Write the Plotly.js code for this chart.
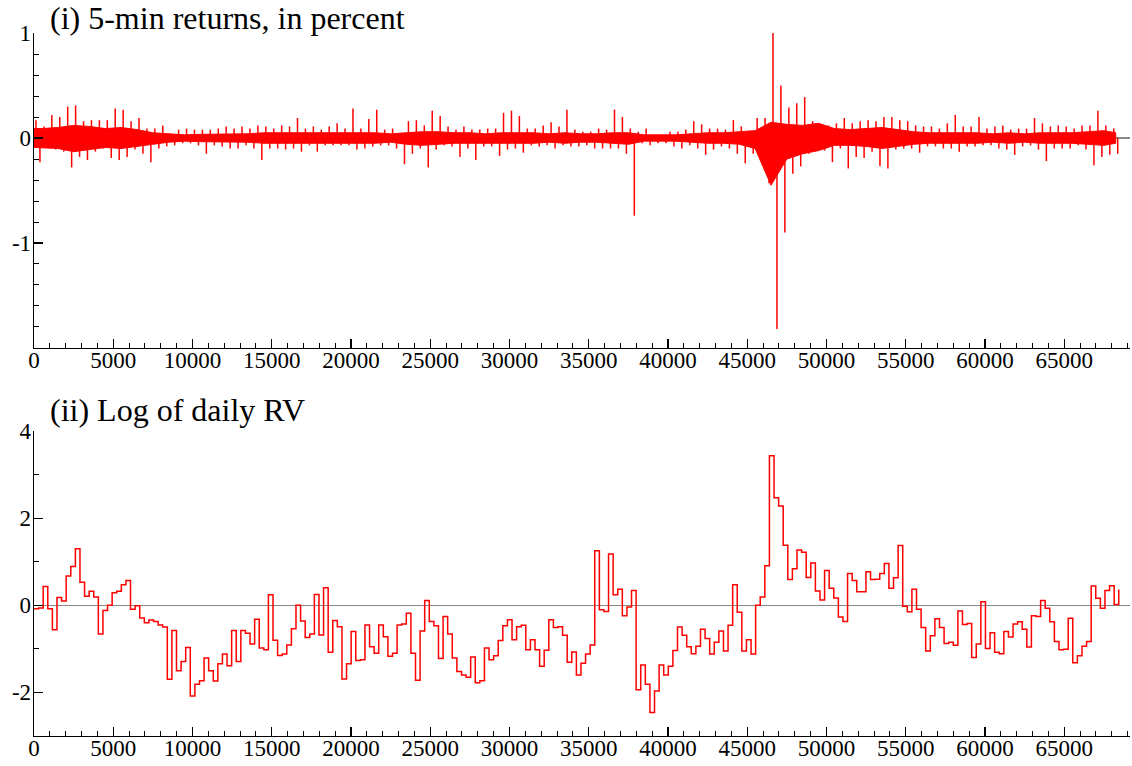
<!DOCTYPE html>
<html>
<head>
<meta charset="utf-8">
<script src="https://cdn.plot.ly/plotly-3.0.1.min.js"></script>
<style>
html,body{margin:0;padding:0;background:#fff;}
#chart{width:1132px;height:766px;}
</style>
</head>
<body>
<div id="chart"></div>
<script>
// ---- Data ----
// (i) 5-min returns: largest up / down move in each block of 500 observations
const retBlock = 500;
const retHigh = [
 0.17,0.11,0.22,0.20,0.30,0.31,0.16,0.17,0.17,0.17,
 0.28,0.27,0.16,0.19,0.09,0.09,0.12,0.04,0.08,0.09,
 0.08,0.08,0.08,0.09,0.11,0.09,0.11,0.09,0.12,0.11,
 0.09,0.12,0.11,0.19,0.09,0.11,0.08,0.11,0.14,0.09,
 0.28,0.09,0.18,0.27,0.08,0.09,0.04,0.16,0.17,0.12,
 0.26,0.21,0.11,0.08,0.11,0.08,0.08,0.09,0.09,0.24,
 0.26,0.21,0.09,0.09,0.12,0.15,0.11,0.27,0.08,0.06,
 0.06,0.09,0.08,0.27,0.20,0.09,0.06,0.09,0.03,0.03,
 0.06,0.06,0.08,0.16,0.13,0.09,0.09,0.08,0.17,0.11,
 0.07,0.19,0.19,1.00,0.50,0.29,0.33,0.39,0.16,0.13,
 0.12,0.14,0.19,0.14,0.16,0.17,0.16,0.20,0.20,0.17,
 0.16,0.12,0.11,0.11,0.09,0.14,0.22,0.11,0.11,0.20,
 0.09,0.11,0.12,0.08,0.09,0.09,0.19,0.14,0.11,0.12,
 0.11,0.09,0.12,0.12,0.26,0.12,0.09
];
const retLow = [
 -0.23,-0.07,-0.11,-0.13,-0.28,-0.18,-0.21,-0.13,-0.10,-0.19,
 -0.21,-0.18,-0.11,-0.15,-0.23,-0.10,-0.08,-0.07,-0.05,-0.05,
 -0.07,-0.15,-0.07,-0.08,-0.10,-0.10,-0.07,-0.10,-0.21,-0.10,
 -0.10,-0.11,-0.10,-0.13,-0.07,-0.13,-0.07,-0.07,-0.07,-0.07,
 -0.11,-0.10,-0.08,-0.07,-0.07,-0.10,-0.25,-0.15,-0.10,-0.28,
 -0.11,-0.07,-0.08,-0.18,-0.10,-0.21,-0.08,-0.08,-0.17,-0.11,
 -0.10,-0.14,-0.07,-0.08,-0.07,-0.10,-0.07,-0.08,-0.08,-0.07,
 -0.10,-0.10,-0.10,-0.10,-0.15,-0.74,-0.05,-0.07,-0.05,-0.05,
 -0.08,-0.10,-0.07,-0.10,-0.16,-0.11,-0.08,-0.10,-0.15,-0.24,
 -0.15,-0.19,-0.43,-1.82,-0.90,-0.34,-0.27,-0.15,-0.10,-0.12,
 -0.23,-0.10,-0.29,-0.18,-0.19,-0.13,-0.27,-0.29,-0.11,-0.10,
 -0.10,-0.14,-0.08,-0.08,-0.10,-0.10,-0.13,-0.08,-0.08,-0.07,
 -0.07,-0.10,-0.11,-0.16,-0.08,-0.07,-0.11,-0.22,-0.10,-0.10,
 -0.10,-0.07,-0.11,-0.26,-0.18,-0.16,-0.15
];
// dense core of the returns band, per block of 1000 observations
const coreBlock = 1000;
const coreHigh = [
 0.09,0.10,0.12,0.11,0.09,0.10,0.08,0.05,0.04,0.03,
 0.035,0.035,0.04,0.04,0.05,0.05,0.05,0.05,0.05,0.05,
 0.05,0.05,0.04,0.05,0.06,0.06,0.05,0.05,0.04,0.05,
 0.05,0.05,0.04,0.05,0.04,0.04,0.05,0.05,0.03,0.03,
 0.03,0.04,0.05,0.05,0.06,0.07,0.15,0.13,0.12,0.14,
 0.09,0.08,0.09,0.10,0.08,0.06,0.05,0.05,0.05,0.05,
 0.04,0.05,0.04,0.05,0.05,0.05,0.06,0.07,0.05
];
const coreLow = [
 -0.09,-0.10,-0.13,-0.11,-0.09,-0.10,-0.08,-0.06,-0.04,-0.03,
 -0.035,-0.04,-0.04,-0.04,-0.05,-0.05,-0.05,-0.05,-0.05,-0.05,
 -0.05,-0.05,-0.04,-0.06,-0.07,-0.06,-0.05,-0.05,-0.05,-0.05,
 -0.05,-0.05,-0.04,-0.05,-0.04,-0.04,-0.05,-0.06,-0.03,-0.03,
 -0.03,-0.04,-0.05,-0.05,-0.06,-0.10,-0.45,-0.20,-0.15,-0.12,
 -0.07,-0.07,-0.08,-0.10,-0.08,-0.06,-0.05,-0.05,-0.05,-0.05,
 -0.04,-0.05,-0.04,-0.05,-0.05,-0.05,-0.06,-0.07,-0.05
];

// (ii) Log of daily RV, one value per day
const dayLength = 290;
const logRV = [
 -0.08,-0.06,0.43,-0.08,-0.56,0.18,0.10,0.67,0.89,1.30,
 0.53,0.21,0.32,0.19,-0.66,-0.12,0.00,0.29,0.32,0.47,
 0.57,-0.09,-0.01,-0.29,-0.40,-0.34,-0.37,-0.45,-0.50,-1.70,
 -0.58,-1.50,-1.29,-0.97,-2.08,-1.81,-1.73,-1.21,-1.50,-1.74,
 -1.34,-1.12,-1.39,-0.58,-1.29,-0.58,-0.64,-0.89,-0.32,-0.98,
 -1.02,0.24,-0.80,-1.15,-1.12,-0.91,-0.54,0.00,-0.36,-0.74,
 -0.66,0.25,-0.68,0.40,-1.08,-0.35,-0.49,-1.69,-1.34,-0.60,
 -1.27,-1.25,-0.45,-0.95,-1.10,-0.45,-0.72,-1.17,-1.10,-0.45,
 -0.43,-0.18,-1.10,-1.72,-0.59,0.11,-0.37,-0.47,-1.22,-0.26,
 -0.66,-1.21,-1.52,-1.60,-1.65,-1.19,-1.78,-1.73,-0.98,-1.25,
 -1.16,-0.81,-0.47,-0.33,-0.79,-0.49,-0.46,-1.02,-0.79,-1.02,
 -1.40,-1.03,-0.33,-0.51,-0.49,-0.69,-1.31,-1.07,-1.60,-1.33,
 -1.12,-0.91,1.25,-0.10,-0.14,1.18,0.24,0.37,-0.24,-0.04,
 0.34,-1.94,-1.37,-1.81,-2.46,-1.97,-1.37,-1.60,-1.40,-1.04,
 -0.50,-0.69,-0.95,-1.11,-0.94,-0.55,-0.76,-1.12,-0.85,-0.59,
 -1.05,-0.46,0.47,-0.16,-1.05,-0.79,-1.12,0.00,0.19,0.91,
 3.43,2.47,2.28,1.38,0.59,0.84,1.27,1.22,0.64,0.97,
 0.33,0.12,0.80,0.39,0.17,-0.27,-0.37,0.73,0.57,0.31,
 0.31,0.77,0.59,0.60,0.73,0.96,0.39,0.63,1.37,-0.02,
 -0.15,0.37,-0.09,-0.51,-1.05,-0.70,-0.31,-0.51,-0.88,-0.85,
 -0.92,-0.13,-0.44,-0.42,-1.20,-0.89,0.08,-0.99,-0.63,-1.08,
 -1.11,-0.60,-0.73,-0.43,-0.38,-0.55,-0.96,-0.24,-0.26,0.11,
 -0.07,-0.38,-0.83,-1.02,-1.01,-0.30,-1.32,-1.16,-0.94,-0.83,
 0.44,0.16,-0.07,0.34,0.45,0.02,0.36
];

const xTicks = [0,5000,10000,15000,20000,25000,30000,35000,40000,45000,50000,55000,60000,65000];
const yTicksTop = [-1,0,1];
const yTicksBottom = [-2,0,2,4];

// ---- Build traces ----
const RED = '#ff0000';
const lastX = retHigh.length * retBlock - retBlock / 2;
const nCore = coreHigh.length;
const coreX = i => Math.min(i * coreBlock + coreBlock / 2, lastX);
const cx = [0], cy = [coreHigh[0]];
for (let i = 0; i < nCore; i++) { cx.push(coreX(i)); cy.push(coreHigh[i]); }
for (let i = nCore - 1; i >= 0; i--) { cx.push(coreX(i)); cy.push(coreLow[i]); }
cx.push(0); cy.push(coreLow[0]);

const sx = [], sy = [];
for (let j = 0; j < retHigh.length; j++) {
  const a = j * retBlock + retBlock * 0.25, b = j * retBlock + retBlock * 0.75;
  sx.push(a, a, null, b, b, null);
  sy.push(0, retHigh[j], null, 0, retLow[j], null);
}
const dx = logRV.map((v, k) => k * dayLength);

const traces = [
  {x: cx, y: cy, xaxis: 'x', yaxis: 'y', type: 'scatter', mode: 'lines',
   fill: 'toself', fillcolor: RED, line: {color: RED, width: 1}, hoverinfo: 'skip'},
  {x: sx, y: sy, xaxis: 'x', yaxis: 'y', type: 'scatter', mode: 'lines',
   connectgaps: false, line: {color: RED, width: 1.5}, hoverinfo: 'skip'},
  {x: dx, y: logRV, xaxis: 'x2', yaxis: 'y2', type: 'scatter', mode: 'lines',
   line: {color: RED, width: 1.5, shape: 'hv'}, hoverinfo: 'skip'}
];

const FONT = 'Liberation Serif, Times New Roman, serif';
function xAxis(anchor) {
  return {
    anchor: anchor, range: [0, 69150], domain: [0, 1],
    tickmode: 'array', tickvals: xTicks, ticktext: xTicks.map(String),
    ticks: 'inside', ticklen: 9, tickwidth: 1.2, tickcolor: '#000',
    minor: {dtick: 1000, tick0: 0, ticks: 'inside', ticklen: 4.5, tickwidth: 1, tickcolor: '#000'},
    showline: true, linecolor: '#000', linewidth: 1.3, mirror: false,
    showgrid: false, zeroline: false,
    ticklabelstandoff: -9,
    tickfont: {family: FONT, size: 23, color: '#000'}
  };
}
function yAxis(anchor, domain, range, tv, minorStep) {
  return {
    anchor: anchor, domain: domain, range: range,
    tickmode: 'array', tickvals: tv, ticktext: tv.map(String),
    ticks: 'inside', ticklen: 9, tickwidth: 1.2, tickcolor: '#000',
    minor: {dtick: minorStep, tick0: 0, ticks: 'inside', ticklen: 5, tickwidth: 1, tickcolor: '#000'},
    showline: true, linecolor: '#000', linewidth: 1.3, mirror: false,
    showgrid: false, zeroline: true, zerolinecolor: '#888', zerolinewidth: 1.3,
    ticklabelstandoff: -3,
    tickfont: {family: FONT, size: 23, color: '#000'}
  };
}

const layout = {
  width: 1132, height: 766,
  margin: {l: 34, r: 2, t: 0, b: 0},
  paper_bgcolor: '#fff', plot_bgcolor: '#fff',
  showlegend: false,
  xaxis: xAxis('y'),
  yaxis: yAxis('x', [0.5457, 0.9569], [-2, 1], yTicksTop, 0.2),
  xaxis2: xAxis('y2'),
  yaxis2: yAxis('x2', [0.0392, 0.4373], [-3, 4], yTicksBottom, 1),
  annotations: [
    {text: '(i) 5-min returns, in percent', xref: 'paper', yref: 'paper',
     x: 0.0125, y: 0.977, xanchor: 'left', yanchor: 'middle', showarrow: false,
     font: {family: FONT, size: 32, color: '#000'}},
    {text: '(ii) Log of daily RV', xref: 'paper', yref: 'paper',
     x: 0.0125, y: 0.4650, xanchor: 'left', yanchor: 'middle', showarrow: false,
     font: {family: FONT, size: 32, color: '#000'}}
  ]
};

Plotly.newPlot('chart', traces, layout, {staticPlot: true, displayModeBar: false});
</script>
</body>
</html>
